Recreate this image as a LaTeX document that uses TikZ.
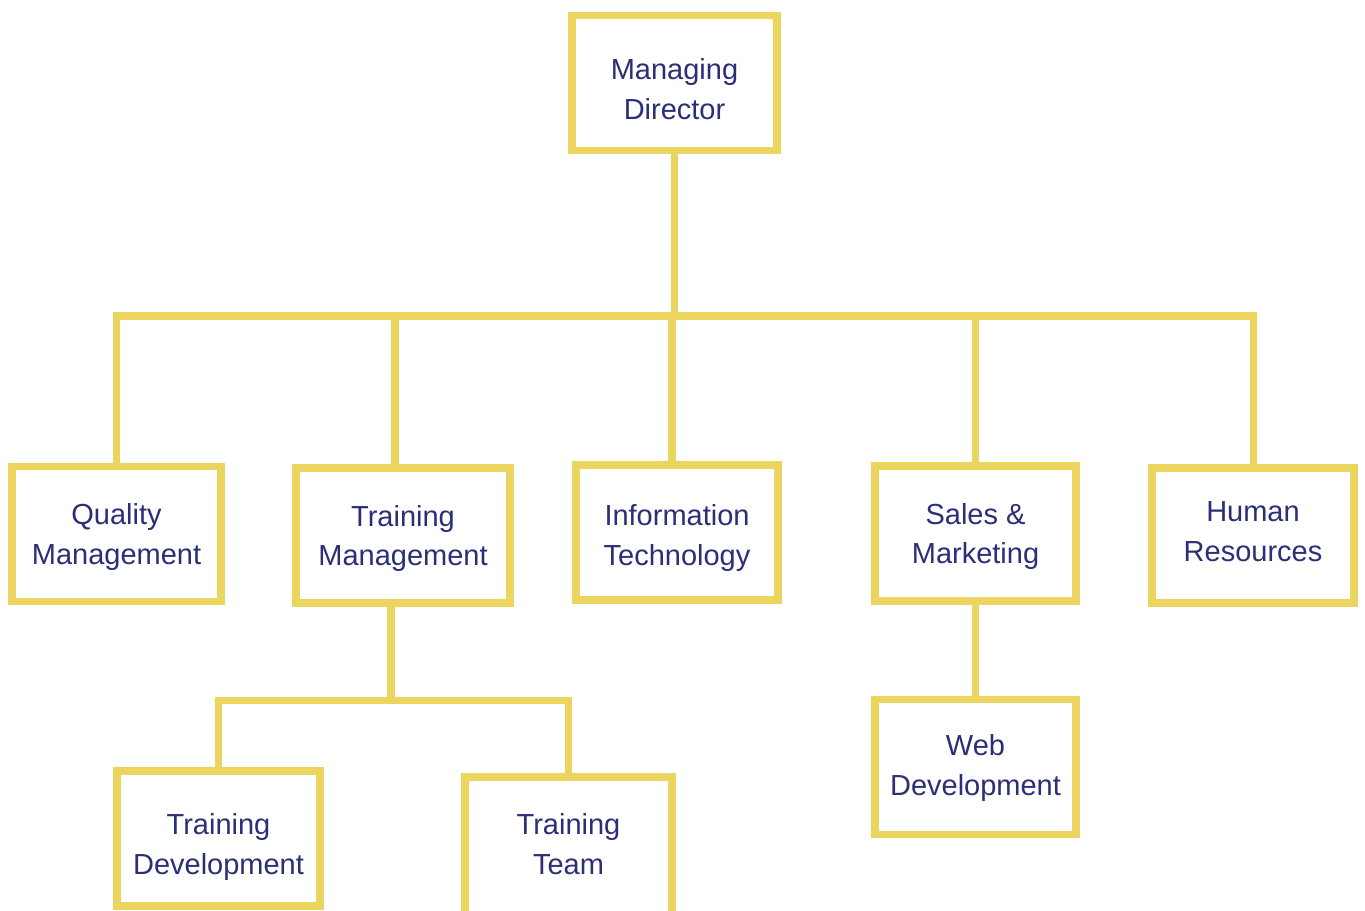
\documentclass[tikz,border=0pt]{standalone}
\usepackage{fontspec}
\setmainfont{Liberation Sans}
\usepackage{tikz}
\usetikzlibrary{positioning}

\definecolor{boxyellow}{HTML}{ECD55E}
\definecolor{textnavy}{HTML}{2B2F78}

\tikzset{
    unitbox/.style={draw=boxyellow, line width=4.5pt, fill=white, align=center,
        text=textnavy, font=\fontsize{16.5}{22.7}\selectfont, text depth=0pt,
        minimum width=205*0.02cm, minimum height=135*0.02cm, inner sep=0pt},
    link/.style={draw=boxyellow, line width=4pt, line cap=rect}
}

\begin{document}
\begin{tikzpicture}[x=0.02cm, y=-0.02cm]
        \useasboundingbox (0, 0) rectangle (1365, 910);

        \coordinate (bus) at (672, 316);
        \coordinate (subbus) at (391, 700);

        \node[unitbox, minimum width=205*0.02cm, text height=73*0.02cm] (md) at (674.5, 83) {Managing\\Director};

        \node[unitbox, minimum width=209*0.02cm] (qm) at (116.5, 534) {Quality\\Management};
        \node[unitbox, minimum width=214*0.02cm] (tm) at (403, 535.5) {Training\\Management};
        \node[unitbox, minimum width=202*0.02cm, text height=65*0.02cm] (it) at (677, 532.5) {Information\\Technology};
        \node[unitbox, minimum width=201*0.02cm] (sm) at (975.5, 533.5) {Sales \&\\Marketing};
        \node[unitbox, minimum width=202*0.02cm, text depth=8*0.02cm] (hr) at (1253, 535.5) {Human\\Resources};

        \node[unitbox, minimum width=203*0.02cm, text height=71*0.02cm] (td) at (218.5, 838.5) {Training\\Development};
        \node[unitbox, minimum width=207*0.02cm, minimum height=150*0.02cm, text depth=16*0.02cm] (tt) at (568.5, 852) {Training\\Team};
        \node[unitbox, minimum width=201*0.02cm, text depth=4*0.02cm] (wd) at (975.5, 767) {Web\\Development};

        % top level
        \draw[link] (md.south) -- (md.south |- bus);
        \draw[link] (qm.north) |- (bus) -| (hr.north);
        \draw[link] ([xshift=-0.16cm]tm.north) -- ([xshift=-0.16cm]tm.north |- bus);
        \draw[link] ([xshift=-0.1cm]it.north) -- ([xshift=-0.1cm]it.north |- bus);
        \draw[link] (sm.north) -- (sm.north |- bus);

        % training branch
        \draw[link] ([xshift=-0.24cm]tm.south) -- ([xshift=-0.24cm]tm.south |- subbus);
        \draw[link] (td.north) |- (subbus) -| (tt.north);

        % sales branch
        \draw[link] (sm.south) -- (wd.north);

    \end{tikzpicture}
\end{document}
